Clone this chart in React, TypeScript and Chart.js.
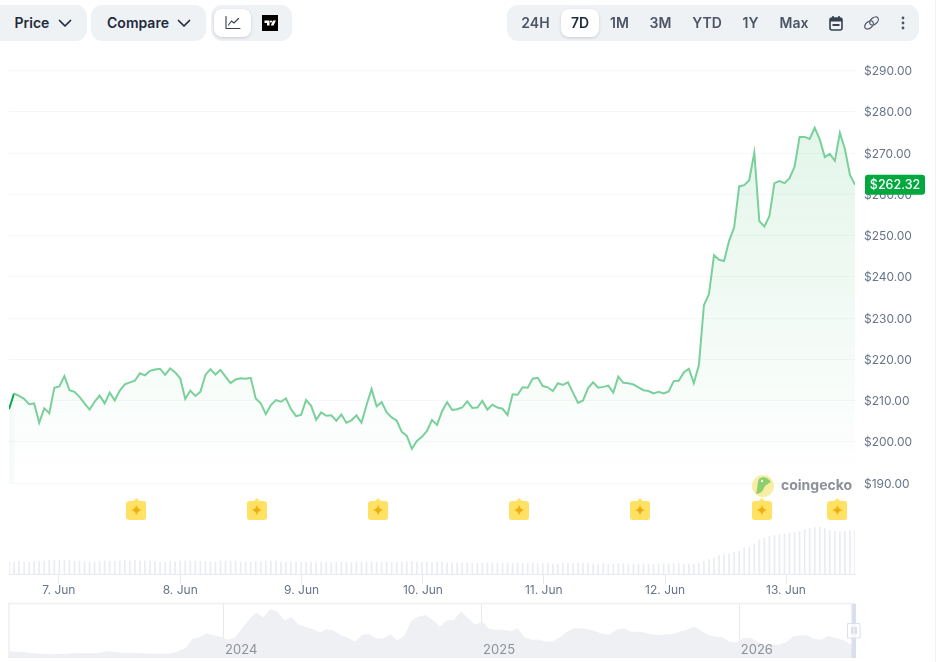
import React, { useEffect, useRef } from "react";
import { Chart, registerables } from "chart.js";

Chart.register(...registerables);

const priceSeries = [
  207.9,211.7,211.1,210.4,209.1,209.3,204.6,208.1,206.9,213.1,
  213.4,215.9,212.5,212.1,210.9,209.3,207.8,209.7,211.2,209.3,
  211.9,210,212.4,213.9,214.4,214.8,216.6,216.1,217.2,217.5,
  217.7,216.2,217.8,216.8,215.4,210.4,212.4,211.1,212.1,216.2,
  217.6,216.3,217.4,215.8,214.2,215.1,215.4,215.3,215.5,210.5,
  209.3,206.7,208.9,210.1,209.7,210.5,207.9,206.2,
  206.5,210.1,208.7,205.3,207.1,206.3,206.4,205.1,206.6,204.6,
  205.2,206.4,204.6,208.9,212.8,208.6,209.6,207.1,205.9,205.1,
  202.4,201.4,198.3,200.2,201.2,202.6,205.3,204.1,207.4,209.6,
  207.7,207.9,208.3,209.8,208.2,208.3,209.9,207.8,209,208.3,
  208,206.5,211.5,211.4,213.2,213.1,215.3,215.5,213.5,213.2,
  212.3,214.2,213.8,214.4,211.9,209.4,210,213,214.4,213.1,
  213.3,213.6,211.9,215.8,214.3,214.2,213.9,213.2,212.5,212.3,
  211.7,212.1,211.7,212.2,214.7,214.8,216.8,217.7,214.2,218.6,
  233.1,235.8,245.2,244.1,243.8,248.7,252,261.9,262.2,263.4,
  270.1,253.5,252.2,254.7,262.7,263.2,262.7,263.9,266.7,273.9,
  273.9,273.4,276.1,273.3,269,269.8,268.1,274.9,270.9,264.7,
  262.32,
];

const volumeSeries = [
  12,12,12.5,12,12,12.5,13,13,13.5,14,14,14,13.5,13,13,12.5,12,12,12.5,13,
  13,13,13,13.5,13,14,13,13,13,12.5,12,12,12.5,12,13,13,13,13,13,12.5,
  12,12,13,13,13,13,12,12,12,12.5,12,13,13,13,12,12,12,12,12,12,
  12,11.5,12,12,11.5,12,12,12,11.5,12,12,12,12.5,12,12,12,11.5,12,12,12.5,
  12.5,12,12,12,11.5,12,12,11,11,11,11,11,11,10.5,11,11,11,10.5,11,11,
  10.5,11,10.5,10.5,11,10.5,10.5,10.5,10,10,11,10.5,10.5,11,10.5,10.5,10,10,10.5,10,
  10,10.5,10.5,10,10,10,10,10,10,10,10.5,10.5,10.5,10.5,10,10,10,10.5,
  12.7,14.3,15.3,18.3,19.3,20,21.7,22.7,26,27,30,34.3,36,37.7,38.7,39.3,40,41,41.7,42.7,
  44.3,45.3,46.7,47,45.3,43.3,42.7,42,42.7,43.3,43,
];

const dayHours = [9.9, 34, 58.1, 82.2, 106.2, 130.3, 154.3];
const dayLabels = ["7. Jun", "8. Jun", "9. Jun", "10. Jun", "11. Jun", "12. Jun", "13. Jun"];
const priceTicks = [190, 200, 210, 220, 230, 240, 250, 260, 270, 280, 290];
const flagHours = [25.3, 49.2, 73.3, 101.3, 125.3, 149.5, 164.5];
const flagLevel = 183.7;
const lastPrice = 262.32;

const overviewSeries = [
  20,19,18,15,13.5,12,11,12,12,14.5,14.5,14,14,16.5,20,18,15,15,14,14,
  13,13,13,14,21,30,57,63,74,69,64,55,62,90,116,137,123,147,140,113,
  123,100,94,87,78,87,82,68,60,50,70,72,59,59,72,53,69,113,125,130,
  115,95,113,115,141,120,100,110,88,85,85,81,90,63,55,56,49,50,63,79,
  90,90,87,81,73,70,85,90,80,79,77,71,69,72,72,81,85,95,83,69,
  65,63,50,47,60,61,48,40,40,40,47,65,68,68,57,55,67,60,55,43,40,
];
const overviewYearDays = [304, 669, 1034];
const overviewYearLabels = ["2024", "2025", "2026"];

const UI = "Inter, 'Noto Sans', sans-serif";
const AXIS_GREY = "#677489";

function makeFlag(): HTMLCanvasElement {
  const c = document.createElement("canvas");
  c.width = 20;
  c.height = 22;
  const g = c.getContext("2d")!;
  g.fillStyle = "#ffe164";
  g.beginPath();
  g.moveTo(10, 0);
  g.lineTo(13, 3);
  g.lineTo(17, 3);
  g.quadraticCurveTo(20, 3, 20, 6);
  g.lineTo(20, 19);
  g.quadraticCurveTo(20, 22, 17, 22);
  g.lineTo(3, 22);
  g.quadraticCurveTo(0, 22, 0, 19);
  g.lineTo(0, 6);
  g.quadraticCurveTo(0, 3, 3, 3);
  g.lineTo(7, 3);
  g.closePath();
  g.fill();
  g.fillStyle = "#eeae12";
  g.beginPath();
  g.moveTo(10, 6.5);
  g.quadraticCurveTo(10.7, 11, 15, 12);
  g.quadraticCurveTo(10.7, 13, 10, 17.5);
  g.quadraticCurveTo(9.3, 13, 5, 12);
  g.quadraticCurveTo(9.3, 11, 10, 6.5);
  g.fill();
  return c;
}

const badgePlugin = {
  id: "lastPriceBadge",
  afterDraw(chart: any) {
    const y = chart.scales.y.getPixelForValue(lastPrice);
    const g = chart.ctx;
    const left = chart.chartArea.right + 10;
    g.save();
    g.fillStyle = "#00a83e";
    g.beginPath();
    g.roundRect(left, y - 10, 60, 20, 3);
    g.fill();
    g.fillStyle = "#ffffff";
    g.font = `500 12.5px ${UI}`;
    g.textAlign = "center";
    g.textBaseline = "middle";
    g.fillText("$" + lastPrice.toFixed(2), left + 30, y + 0.5);
    g.restore();
  },
};

const frameAndHandlePlugin = {
  id: "overviewFrame",
  beforeDatasetsDraw(chart: any) {
    const { left, right, top, bottom } = chart.chartArea;
    const g = chart.ctx;
    g.save();
    g.strokeStyle = "#eef0f4";
    g.lineWidth = 1.5;
    g.beginPath();
    g.moveTo(left, bottom);
    g.lineTo(left, top - 0.5);
    g.lineTo(right, top - 0.5);
    g.stroke();
    g.restore();
  },
  afterDraw(chart: any) {
    const { right, top, bottom } = chart.chartArea;
    const g = chart.ctx;
    const mid = (top + bottom) / 2;
    g.save();
    g.fillStyle = "#d9dfeb";
    g.fillRect(right - 3.5, top, 4.5, bottom - top);
    g.fillStyle = "rgba(255,255,255,0.75)";
    g.strokeStyle = "#d9dfeb";
    g.beginPath();
    g.rect(right - 7.5, mid - 7.5, 12.5, 14.5);
    g.fill();
    g.stroke();
    g.fillStyle = "#d9dfeb";
    g.fillRect(right - 4, mid - 4, 2.5, 7);
    g.fillRect(right - 0.5, mid - 4, 2.5, 7);
    g.restore();
  },
};

function Pill(p: { left: number; width: number; children?: any }) {
  return (
    <div
      style={{
        position: "absolute",
        left: p.left,
        top: 5,
        width: p.width,
        height: 36,
        borderRadius: 11,
        background: "#eff2f5",
      }}
    >
      {p.children}
    </div>
  );
}

function Label(p: { cx: number; text: string; color?: string }) {
  return (
    <span
      style={{
        position: "absolute",
        left: p.cx - 40,
        width: 80,
        top: 14,
        textAlign: "center",
        font: `600 14px/18px ${UI}`,
        color: p.color || "#4b5565",
      }}
    >
      {p.text}
    </span>
  );
}

function Chevron(p: { left: number }) {
  return (
    <svg style={{ position: "absolute", left: p.left, top: 19 }} width="14" height="9" viewBox="0 0 14 9">
      <path d="M1.5 1.5 L7 7 L12.5 1.5" fill="none" stroke="#1f2a3c" strokeWidth="1.7" strokeLinecap="round" strokeLinejoin="round" />
    </svg>
  );
}

export default function App() {
  const mainRef = useRef<HTMLCanvasElement>(null);
  const navRef = useRef<HTMLCanvasElement>(null);

  useEffect(() => {
    const flag = makeFlag();
    const main = new Chart(mainRef.current!, {
      type: "line",
      data: {
        datasets: [
          {
            label: "Price",
            data: priceSeries.map((v, i) => ({ x: i, y: v })),
            borderColor: "#7ad09b",
            borderWidth: 2,
            pointRadius: 0,
            tension: 0,
            order: 2,
            yAxisID: "y",
            fill: { value: 190 },
            backgroundColor: (ctx: any) => {
              const a = ctx.chart.chartArea;
              if (!a) return "transparent";
              const gr = ctx.chart.ctx.createLinearGradient(0, a.top + 40, 0, ctx.chart.scales.y.getPixelForValue(190));
              gr.addColorStop(0, "rgba(0,168,62,0.115)");
              gr.addColorStop(1, "rgba(0,168,62,0)");
              return gr;
            },
            segment: {
              borderColor: (c: any) => (c.p0DataIndex === 0 ? "#0aa648" : undefined),
              backgroundColor: (c: any) => (c.p0DataIndex === 0 ? "rgba(0,168,62,0.04)" : undefined),
            },
          } as any,
          {
            type: "bar",
            label: "Volume",
            data: volumeSeries.map((v, i) => ({ x: i, y: v })),
            backgroundColor: "#e9ecf1",
            barThickness: 1,
            yAxisID: "yVolume",
            order: 3,
          } as any,
          {
            type: "scatter",
            label: "Events",
            data: flagHours.map((h) => ({ x: h, y: flagLevel })),
            pointStyle: flag,
            pointRadius: 10,
            yAxisID: "y",
            order: 1,
          } as any,
        ],
      },
      options: {
        animation: false,
        responsive: false,
        events: [],
        layout: { autoPadding: false, padding: { left: 9, top: 70.5, right: 0, bottom: 0 } },
        plugins: { legend: { display: false }, tooltip: { enabled: false } },
        scales: {
          x: {
            type: "linear",
            offset: false,
            min: 0,
            max: 168,
            afterBuildTicks: (s: any) => {
              s.ticks = dayHours.map((value) => ({ value }));
            },
            afterFit: (s: any) => {
              s.height = 26;
              s.paddingLeft = 0;
              s.paddingRight = 0;
            },
            grid: { offset: false, drawOnChartArea: false, drawTicks: true, tickLength: 10, tickColor: "#e7eaf0", color: "#e7eaf0" },
            border: { color: "#e7eaf0", width: 1 },
            ticks: {
              autoSkip: false,
              maxRotation: 0,
              padding: -1,
              color: AXIS_GREY,
              font: { family: UI, size: 12 },
              callback: (v: any) => dayLabels[dayHours.indexOf(v)] ?? "",
            },
          },
          y: {
            position: "right",
            min: 167.94,
            max: 290,
            afterBuildTicks: (s: any) => {
              s.ticks = priceTicks.map((value) => ({ value }));
            },
            afterFit: (s: any) => {
              s.width = 81;
            },
            grid: { color: "#f6f7f9", drawTicks: false },
            border: { display: false },
            ticks: {
              padding: 9,
              crossAlign: "near",
              autoSkip: false,
              labelOffset: 1,
              color: AXIS_GREY,
              font: { family: UI, size: 12 },
              callback: (v: any) => "$" + Number(v).toFixed(2),
            },
          },
          yVolume: { display: false, min: 0, max: 503.5 },
        },
      } as any,
      plugins: [badgePlugin],
    } as any);

    const nav = new Chart(navRef.current!, {
      type: "line",
      data: {
        datasets: [
          {
            data: overviewSeries.map((v, i) => ({ x: i * 10, y: v })),
            borderWidth: 0,
            pointRadius: 0,
            tension: 0,
            fill: "origin",
            backgroundColor: "#eef0f3",
          },
        ],
      },
      options: {
        animation: false,
        responsive: false,
        events: [],
        layout: { autoPadding: false, padding: { left: 9, right: 81, top: 4, bottom: 4 } },
        plugins: { legend: { display: false }, tooltip: { enabled: false } },
        scales: {
          x: {
            type: "linear",
            min: 0,
            max: 1197.7,
            afterBuildTicks: (s: any) => {
              s.ticks = overviewYearDays.map((value) => ({ value }));
            },
            afterFit: (s: any) => {
              s.height = 0;
              s.paddingLeft = 0;
              s.paddingRight = 0;
            },
            grid: { color: "#e7e9ed", drawTicks: false },
            border: { display: false },
            ticks: {
              z: 1,
              mirror: true,
              autoSkip: false,
              maxRotation: 0,
              padding: 0,
              labelOffset: 17.5,
              color: "#8d9299",
              font: { family: UI, size: 13 },
              callback: (v: any) => overviewYearLabels[overviewYearDays.indexOf(v)] ?? "",
            },
          },
          y: { display: false, min: 0, max: 163 },
        },
      } as any,
      plugins: [frameAndHandlePlugin],
    } as any);

    return () => {
      main.destroy();
      nav.destroy();
    };
  }, []);

  return (
    <div
      style={{
        position: "absolute",
        left: 0,
        top: 0,
        width: 936,
        height: 662,
        overflow: "hidden",
        background: "#ffffff",
        fontFamily: UI,
      }}
    >
      <canvas ref={mainRef} width={936} height={600} style={{ position: "absolute", left: 0, top: 0, width: 936, height: 600 }} />
      <canvas ref={navRef} width={936} height={62} style={{ position: "absolute", left: 0, top: 600, width: 936, height: 62 }} />

      <Pill left={-10} width={97} />
      <Label cx={32} text="Price" color="#1f2a3c" />
      <Chevron left={58} />

      <Pill left={91} width={115} />
      <Label cx={138} text="Compare" color="#1f2a3c" />
      <Chevron left={177} />

      <Pill left={211} width={81} />
      <div style={{ position: "absolute", left: 214, top: 9, width: 37, height: 28, borderRadius: 8, background: "#fff", boxShadow: "0 1px 3px rgba(20,30,50,0.18)" }} />
      <svg style={{ position: "absolute", left: 225, top: 16 }} width="16" height="14" viewBox="0 0 16 14">
        <path d="M1 0.5 V12.5 H15" fill="none" stroke="#364152" strokeWidth="1.1" strokeLinecap="round" />
        <path d="M3.5 9 L6.5 5 L9 7 L13.5 2.5" fill="none" stroke="#364152" strokeWidth="1.1" strokeLinecap="round" strokeLinejoin="round" />
      </svg>
      <svg style={{ position: "absolute", left: 262, top: 15 }} width="16" height="16" viewBox="0 0 16 16">
        <rect width="16" height="16" fill="#000" />
        <path d="M2.5 5.5 H7.5 V10.5 H5 V8 H2.5 Z" fill="#fff" />
        <circle cx="9" cy="6.6" r="1.1" fill="#fff" />
        <path d="M11 5.5 H14 L11.5 10.5 H8.8 Z" fill="#fff" />
      </svg>

      <Pill left={507} width={412} />
      <div style={{ position: "absolute", left: 561, top: 9, width: 38, height: 28, borderRadius: 8, background: "#fff", boxShadow: "0 1px 3px rgba(20,30,50,0.18)" }} />
      <Label cx={535.5} text="24H" />
      <Label cx={580} text="7D" color="#1f2a3c" />
      <Label cx={619.5} text="1M" />
      <Label cx={660.5} text="3M" />
      <Label cx={707} text="YTD" />
      <Label cx={750.5} text="1Y" />
      <Label cx={794} text="Max" />
      <svg style={{ position: "absolute", left: 829, top: 15 }} width="14" height="16" viewBox="0 0 14 16">
        <rect x="1" y="3" width="12" height="12" rx="2" fill="none" stroke="#364152" strokeWidth="1.6" />
        <rect x="1" y="3" width="12" height="3.5" fill="#364152" />
        <path d="M4 1 V3.5 M10 1 V3.5" stroke="#364152" strokeWidth="1.6" />
        <rect x="3.5" y="9" width="7" height="2" fill="#364152" />
      </svg>
      <svg style={{ position: "absolute", left: 863, top: 15 }} width="17" height="16" viewBox="0 0 17 16">
        <g fill="none" stroke="#4b5565" strokeWidth="1.2">
          <ellipse cx="6" cy="10" rx="5" ry="3.2" transform="rotate(-40 6 10)" />
          <ellipse cx="11" cy="6" rx="5" ry="3.2" transform="rotate(-40 11 6)" />
        </g>
      </svg>
      <svg style={{ position: "absolute", left: 901, top: 16 }} width="4" height="14" viewBox="0 0 4 14">
        <circle cx="2" cy="2" r="1.4" fill="#4b5565" />
        <circle cx="2" cy="7" r="1.4" fill="#4b5565" />
        <circle cx="2" cy="12" r="1.4" fill="#4b5565" />
      </svg>

      <svg style={{ position: "absolute", left: 752, top: 475 }} width="22" height="22" viewBox="0 0 22 22">
        <circle cx="11" cy="11" r="11" fill="#f8eda5" />
        <path d="M4 19 C6 13 5 7 7 4 C10 1 16 2 19 7 C16 9 13 10 12 13 C11 16 8 19 4 19 Z" fill="#8dcf6d" />
        <circle cx="10" cy="6" r="1.2" fill="#ffffff" />
      </svg>
      <span style={{ position: "absolute", left: 781, top: 476, font: `700 14px/18px ${UI}`, color: "#8c9199", whiteSpace: "nowrap" }}>coingecko</span>
      <div style={{ position: "absolute", left: 935, top: 0, width: 1, height: 662, background: "#f1f2f4" }} />
    </div>
  );
}
